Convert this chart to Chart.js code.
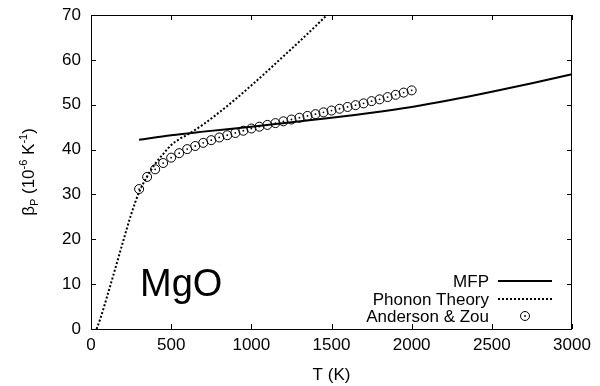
<!DOCTYPE html>
<html>
<head>
<meta charset="utf-8">
<script src="https://cdn.jsdelivr.net/npm/chart.js@4.4.1/dist/chart.umd.min.js"></script>
<style>
  html, body { margin: 0; padding: 0; background: #fff; }
  canvas { display: block; }
</style>
</head>
<body>
<canvas id="betaChart" width="600" height="386"></canvas>
<script>
// MgO: isobaric expansivity vs temperature
const mfpT = [300, 500, 700, 1000, 1250, 1500, 1750, 2000, 2250, 2500, 2750, 3000];
const mfpBeta = [42.2, 43.2, 44.0, 45.1, 46.1, 47.1, 48.2, 49.5, 51.1, 52.9, 54.8, 56.8];

const phononT = [35, 60, 100, 150, 200, 250, 300, 350, 400, 450, 500, 550, 600, 700, 800, 900, 1000, 1100, 1200, 1300, 1400, 1500];
const phononBeta = [0, 2.5, 7.2, 13.3, 19.5, 25.5, 30.5, 34.0, 36.8, 39.0, 41.0, 42.3, 43.3, 45.6, 48.3, 51.2, 54.3, 57.5, 60.8, 64.1, 67.5, 71.0];

const azT = [300, 350, 400, 450, 500, 550, 600, 650, 700, 750, 800, 850, 900, 950, 1000, 1050, 1100, 1150,
  1200, 1250, 1300, 1350, 1400, 1450, 1500, 1550, 1600, 1650, 1700, 1750, 1800, 1850, 1900, 1950, 2000];
const azBeta = [31.2, 33.9, 35.6, 37.0, 38.2, 39.2, 40.1, 40.8, 41.5, 42.1, 42.7, 43.2, 43.7, 44.2, 44.7, 45.1, 45.5, 45.9,
  46.3, 46.7, 47.1, 47.5, 47.9, 48.3, 48.7, 49.1, 49.5, 49.9, 50.3, 50.8, 51.2, 51.7, 52.2, 52.7, 53.2];

const xTicks = [0, 500, 1000, 1500, 2000, 2500, 3000];
const yTicks = [0, 10, 20, 30, 40, 50, 60, 70];

const FONT = "'Liberation Sans', Arial, Helvetica, sans-serif";

const toXY = (xs, ys) => xs.map((x, i) => ({ x: x, y: ys[i] }));

// frame, inward ticks on all four sides, legend, labels
const decorations = {
  id: 'decorations',
  afterDraw(chart) {
    const ctx = chart.ctx;
    const a = chart.chartArea;
    const xs = chart.scales.x, ys = chart.scales.y;
    ctx.save();
    ctx.strokeStyle = '#000';
    ctx.lineWidth = 1;
    ctx.strokeRect(a.left + 0.5, a.top + 0.5, a.right - a.left - 1, a.bottom - a.top);

    ctx.beginPath();
    xTicks.forEach(v => {
      const px = Math.round(xs.getPixelForValue(v)) + 0.5;
      ctx.moveTo(px, a.bottom); ctx.lineTo(px, a.bottom - 5);
      ctx.moveTo(px, a.top); ctx.lineTo(px, a.top + 5);
    });
    yTicks.forEach(v => {
      const py = Math.round(ys.getPixelForValue(v)) + 0.5;
      ctx.moveTo(a.left, py); ctx.lineTo(a.left + 5, py);
      ctx.moveTo(a.right, py); ctx.lineTo(a.right - 5, py);
    });
    ctx.stroke();

    // MgO label
    ctx.fillStyle = '#000';
    ctx.font = '38px ' + FONT;
    ctx.textAlign = 'left';
    ctx.textBaseline = 'alphabetic';
    ctx.fillText('MgO', a.left + 49, a.bottom - 33);

    // legend
    const ds = chart.data.datasets;
    const textRight = a.right - 83;
    const sx0 = a.right - 74, sx1 = a.right - 20;
    const rows = [a.bottom - 42, a.bottom - 24, a.bottom - 7];
    ctx.font = '17px ' + FONT;
    ctx.textAlign = 'right';
    [0, 1, 2].forEach(i => {
      const d = ds[i];
      const base = rows[i];
      ctx.fillText(d.label, textRight, base);
      const my = base - 6;
      if (d.showLine === false) {
        const cx = (sx0 + sx1) / 2;
        ctx.beginPath();
        ctx.lineWidth = d.pointBorderWidth;
        ctx.arc(cx, my, d.pointRadius, 0, Math.PI * 2);
        ctx.stroke();
        ctx.beginPath();
        ctx.arc(cx, my, 0.9, 0, Math.PI * 2);
        ctx.fill();
      } else {
        ctx.beginPath();
        ctx.lineWidth = d.borderWidth;
        ctx.setLineDash(d.borderDash || []);
        ctx.moveTo(sx0, my); ctx.lineTo(sx1, my);
        ctx.stroke();
        ctx.setLineDash([]);
      }
    });

    // rotated y-axis title with sub/superscripts
    ctx.translate(28, (a.top + a.bottom) / 2);
    ctx.rotate(-Math.PI / 2);
    ctx.textAlign = 'left';
    const parts = [
      ['\u03b2', 17, 0], ['P', 11, 4], [' (10', 17, 0], ['-6', 11, -7],
      [' K', 17, 0], ['-1', 11, -7], [')', 17, 0]
    ];
    let w = 0;
    parts.forEach(p => { ctx.font = p[1] + 'px ' + FONT; w += ctx.measureText(p[0]).width; });
    let cx = -w / 2;
    parts.forEach(p => {
      ctx.font = p[1] + 'px ' + FONT;
      ctx.fillText(p[0], cx, 6 + p[2]);
      cx += ctx.measureText(p[0]).width;
    });
    ctx.restore();
  }
};

new Chart(document.getElementById('betaChart'), {
  type: 'scatter',
  data: {
    datasets: [
      {
        label: 'MFP',
        data: toXY(mfpT, mfpBeta),
        showLine: true,
        borderColor: '#000',
        borderWidth: 2,
        pointRadius: 0,
        cubicInterpolationMode: 'monotone'
      },
      {
        label: 'Phonon Theory',
        data: toXY(phononT, phononBeta),
        showLine: true,
        borderColor: '#000',
        borderWidth: 2,
        borderDash: [2, 2],
        pointRadius: 0,
        cubicInterpolationMode: 'monotone'
      },
      {
        label: 'Anderson & Zou',
        data: toXY(azT, azBeta),
        showLine: false,
        pointStyle: 'circle',
        pointRadius: 4.5,
        pointBorderWidth: 1,
        pointBorderColor: '#000',
        pointBackgroundColor: 'rgba(255,255,255,0)'
      },
      {
        label: 'centres',
        data: toXY(azT, azBeta),
        showLine: false,
        pointRadius: 0.9,
        pointBorderWidth: 0,
        pointBackgroundColor: '#000'
      }
    ]
  },
  options: {
    responsive: false,
    animation: false,
    devicePixelRatio: 1,
    layout: { padding: { left: 0, right: 28, top: 15, bottom: 0 } },
    plugins: {
      legend: { display: false },
      tooltip: { enabled: false }
    },
    scales: {
      x: {
        type: 'linear',
        min: 0,
        max: 3000,
        afterFit: s => { s.height = 57; },
        afterBuildTicks: s => { s.ticks = xTicks.map(v => ({ value: v })); },
        grid: { display: false, drawTicks: false },
        border: { display: false },
        ticks: {
          color: '#000',
          padding: 6,
          maxRotation: 0,
          font: { family: FONT, size: 17 },
          callback: v => String(v)
        },
        title: {
          display: true,
          text: 'T (K)',
          color: '#000',
          padding: { top: 4, bottom: 0 },
          font: { family: FONT, size: 17 }
        }
      },
      y: {
        type: 'linear',
        min: 0,
        max: 70,
        afterFit: s => { s.width = 91; s.paddingTop = 0; s.paddingBottom = 0; },
        afterBuildTicks: s => { s.ticks = yTicks.map(v => ({ value: v })); },
        grid: { display: false, drawTicks: false },
        border: { display: false },
        ticks: {
          color: '#000',
          padding: 10,
          font: { family: FONT, size: 17, lineHeight: 1 },
          callback: v => String(v)
        }
      }
    }
  },
  plugins: [decorations]
});
</script>
</body>
</html>
